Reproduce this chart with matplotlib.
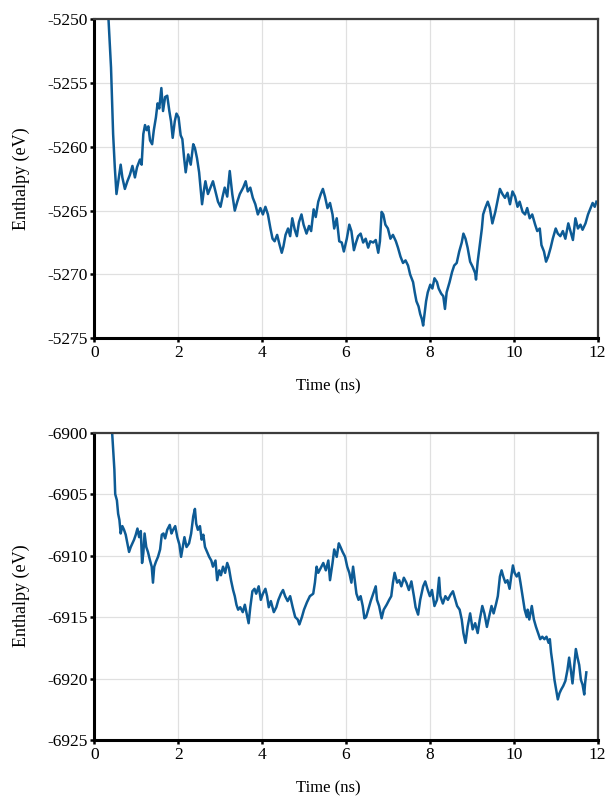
#!/usr/bin/env python3
# -*- coding: utf-8 -*-
import matplotlib

matplotlib.use("Agg")
import matplotlib.pyplot as plt
import numpy as np

plt.rcParams["font.family"] = ["Liberation Serif", "DejaVu Serif"]
plt.rcParams["axes.unicode_minus"] = False

LINE_CLR = "#0d5b95"

# enthalpy trace, first run
time_a = [
    0.30, 0.40, 0.45, 0.49, 0.53, 0.57, 0.63, 0.67, 0.73, 0.79, 0.85, 0.91,
    0.97, 1.02, 1.09, 1.13, 1.17, 1.21, 1.25, 1.29, 1.33, 1.38, 1.42, 1.47,
    1.51, 1.55, 1.60, 1.64, 1.69, 1.74, 1.79, 1.83, 1.87, 1.92, 1.96, 2.01,
    2.06, 2.10, 2.14, 2.18, 2.24, 2.30, 2.36, 2.40, 2.45, 2.50, 2.57, 2.61,
    2.65, 2.71, 2.77, 2.83, 2.89, 2.95, 3.01, 3.06, 3.11, 3.17, 3.23, 3.29,
    3.35, 3.41, 3.47, 3.55, 3.61, 3.66, 3.72, 3.78, 3.84, 3.90, 3.96, 4.02,
    4.08, 4.14, 4.20, 4.25, 4.30, 4.36, 4.42, 4.47, 4.51, 4.56, 4.62, 4.67,
    4.72, 4.78, 4.83, 4.88, 4.94, 4.99, 5.06, 5.12, 5.17, 5.23, 5.28, 5.34,
    5.40, 5.45, 5.50, 5.56, 5.62, 5.68, 5.72, 5.78, 5.84, 5.90, 5.95, 6.02,
    6.08, 6.13, 6.19, 6.24, 6.29, 6.35, 6.41, 6.47, 6.53, 6.58, 6.65, 6.71,
    6.77, 6.81, 6.85, 6.89, 6.94, 7.00, 7.06, 7.12, 7.19, 7.24, 7.30, 7.36,
    7.42, 7.48, 7.53, 7.60, 7.64, 7.68, 7.73, 7.77, 7.81, 7.84, 7.87, 7.91,
    7.95, 8.01, 8.06, 8.11, 8.17, 8.21, 8.27, 8.32, 8.36, 8.40, 8.47, 8.53,
    8.58, 8.64, 8.70, 8.76, 8.80, 8.85, 8.90, 8.96, 9.02, 9.08, 9.10, 9.14,
    9.19, 9.24, 9.27, 9.32, 9.38, 9.43, 9.49, 9.56, 9.61, 9.67, 9.73, 9.79,
    9.85, 9.91, 9.97, 10.03, 10.09, 10.14, 10.21, 10.27, 10.32, 10.38, 10.44,
    10.51, 10.56, 10.62, 10.66, 10.72, 10.77, 10.82, 10.88, 10.93, 11.00,
    11.05, 11.11, 11.17, 11.23, 11.30, 11.35, 11.41, 11.47, 11.53, 11.59,
    11.64, 11.71, 11.77, 11.83, 11.88, 11.93, 11.97,
]
enthalpy_a = [
    -5247.5, -5253.8, -5259.0, -5261.6, -5263.7, -5262.8, -5261.4, -5262.4,
    -5263.3, -5262.7, -5262.2, -5261.5, -5262.4, -5261.6, -5261.0, -5261.4,
    -5259.0, -5258.3, -5258.7, -5258.4, -5259.5, -5259.8, -5258.7, -5257.7,
    -5256.6, -5257.0, -5255.4, -5257.2, -5256.1, -5256.0, -5257.2, -5258.0,
    -5259.3, -5258.0, -5257.4, -5257.7, -5259.1, -5259.4, -5260.8, -5262.0,
    -5260.6, -5261.4, -5259.8, -5260.1, -5260.9, -5262.0, -5264.5, -5263.5,
    -5262.7, -5263.7, -5263.2, -5262.7, -5263.5, -5264.3, -5264.7, -5263.9,
    -5263.2, -5263.9, -5261.9, -5263.7, -5265.0, -5264.3, -5263.7, -5263.2,
    -5262.7, -5263.5, -5263.2, -5264.0, -5264.5, -5265.3, -5264.8, -5265.3,
    -5264.7, -5265.3, -5266.4, -5267.2, -5267.4, -5266.9, -5267.7, -5268.3,
    -5267.8, -5266.9, -5266.4, -5267.0, -5265.6, -5266.5, -5267.0, -5265.9,
    -5265.3, -5266.1, -5266.8, -5266.2, -5266.6, -5264.9, -5265.5, -5264.3,
    -5263.7, -5263.3, -5263.9, -5264.8, -5264.4, -5265.3, -5266.4, -5265.6,
    -5267.4, -5267.5, -5268.2, -5267.2, -5266.1, -5266.6, -5268.1, -5267.5,
    -5267.0, -5266.8, -5267.5, -5267.2, -5267.9, -5267.4, -5267.5, -5267.3,
    -5268.3, -5267.4, -5265.1, -5265.3, -5266.1, -5266.4, -5267.2, -5266.9,
    -5267.4, -5267.9, -5268.6, -5269.1, -5268.9, -5269.3, -5270.0, -5270.6,
    -5271.4, -5272.1, -5272.5, -5273.1, -5273.5, -5274.0, -5273.2, -5272.1,
    -5271.4, -5270.8, -5271.1, -5270.3, -5270.6, -5271.1, -5271.5, -5271.7,
    -5272.7, -5271.4, -5270.6, -5269.8, -5269.3, -5269.1, -5268.2, -5267.5,
    -5266.8, -5267.2, -5267.9, -5269.0, -5269.4, -5269.9, -5270.4, -5269.0,
    -5267.7, -5266.4, -5265.3, -5264.8, -5264.3, -5264.8, -5266.0, -5265.1,
    -5264.3, -5263.3, -5263.7, -5264.0, -5263.6, -5264.5, -5263.5, -5263.9,
    -5264.7, -5264.3, -5265.1, -5265.3, -5264.8, -5265.6, -5265.3, -5266.1,
    -5266.6, -5266.4, -5267.7, -5268.2, -5269.0, -5268.6, -5267.9, -5267.2,
    -5266.4, -5266.8, -5267.0, -5266.6, -5267.2, -5266.0, -5266.6, -5267.3,
    -5265.6, -5266.4, -5266.1, -5266.5, -5266.0, -5265.3, -5264.8, -5264.4,
    -5264.7, -5264.3,
]

# enthalpy trace, second run
time_b = [
    0.40, 0.48, 0.50, 0.54, 0.57, 0.60, 0.63, 0.67, 0.71, 0.75, 0.79, 0.83,
    0.87, 0.91, 0.95, 0.99, 1.03, 1.07, 1.11, 1.14, 1.17, 1.20, 1.24, 1.28,
    1.33, 1.37, 1.40, 1.43, 1.47, 1.52, 1.57, 1.61, 1.65, 1.69, 1.74, 1.80,
    1.84, 1.88, 1.93, 1.98, 2.03, 2.07, 2.11, 2.15, 2.20, 2.26, 2.31, 2.36,
    2.40, 2.43, 2.47, 2.52, 2.56, 2.60, 2.64, 2.69, 2.74, 2.79, 2.83, 2.89,
    2.93, 2.98, 3.02, 3.07, 3.12, 3.17, 3.21, 3.26, 3.31, 3.35, 3.39, 3.43,
    3.48, 3.54, 3.59, 3.68, 3.72, 3.77, 3.82, 3.86, 3.92, 3.97, 4.02, 4.08,
    4.12, 4.16, 4.21, 4.28, 4.34, 4.39, 4.45, 4.50, 4.55, 4.61, 4.67, 4.73,
    4.79, 4.85, 4.89, 4.95, 5.00, 5.07, 5.14, 5.22, 5.26, 5.30, 5.34, 5.40,
    5.46, 5.52, 5.58, 5.62, 5.68, 5.72, 5.78, 5.83, 5.87, 5.92, 5.98, 6.03,
    6.08, 6.13, 6.17, 6.21, 6.25, 6.30, 6.35, 6.40, 6.44, 6.48, 6.53, 6.59,
    6.65, 6.71, 6.74, 6.79, 6.85, 6.90, 6.97, 7.03, 7.08, 7.12, 7.16, 7.22,
    7.27, 7.32, 7.38, 7.44, 7.50, 7.56, 7.62, 7.66, 7.72, 7.77, 7.84, 7.89,
    7.95, 8.00, 8.05, 8.11, 8.17, 8.22, 8.25, 8.31, 8.37, 8.43, 8.49, 8.55,
    8.60, 8.65, 8.71, 8.76, 8.80, 8.85, 8.90, 8.96, 9.02, 9.08, 9.14, 9.19,
    9.25, 9.30, 9.36, 9.41, 9.47, 9.52, 9.58, 9.62, 9.67, 9.71, 9.75, 9.80,
    9.85, 9.90, 9.94, 9.98, 10.02, 10.07, 10.12, 10.16, 10.21, 10.26, 10.31,
    10.33, 10.37, 10.43, 10.48, 10.53, 10.58, 10.63, 10.68, 10.73, 10.78,
    10.83, 10.86, 10.89, 10.93, 10.97, 11.01, 11.05, 11.09, 11.13, 11.18,
    11.23, 11.28, 11.32, 11.36, 11.40, 11.44, 11.48, 11.52, 11.56, 11.60,
    11.64, 11.68, 11.70, 11.73,
]
enthalpy_b = [
    -6898.5, -6903.0, -6905.0, -6905.5, -6906.6, -6907.1, -6908.2, -6907.6,
    -6907.9, -6908.3, -6909.0, -6909.7, -6909.3, -6909.0, -6908.7, -6908.3,
    -6907.8, -6908.5, -6908.0, -6910.6, -6909.8, -6908.2, -6909.3, -6909.7,
    -6910.4, -6910.9, -6912.2, -6910.9, -6910.5, -6910.1, -6909.5, -6908.3,
    -6908.2, -6908.6, -6907.9, -6907.5, -6908.2, -6907.9, -6907.6, -6908.5,
    -6909.1, -6910.1, -6909.3, -6908.5, -6909.3, -6909.0, -6908.2, -6906.8,
    -6906.2, -6907.4, -6907.9, -6907.6, -6908.7, -6908.3, -6909.3, -6909.7,
    -6910.1, -6910.4, -6910.9, -6910.4, -6912.0, -6911.2, -6911.6, -6910.9,
    -6911.4, -6910.6, -6911.0, -6912.0, -6912.8, -6913.3, -6914.0, -6914.4,
    -6914.2, -6914.6, -6914.0, -6915.5, -6914.2, -6912.9, -6912.7, -6913.1,
    -6912.5, -6913.6, -6913.1, -6912.7, -6913.3, -6914.2, -6913.7, -6914.6,
    -6914.2, -6913.6, -6913.1, -6912.8, -6913.3, -6913.7, -6913.3, -6914.2,
    -6915.0, -6915.2, -6915.6, -6915.0, -6914.4, -6913.8, -6913.3, -6913.1,
    -6912.2, -6910.9, -6911.4, -6911.0, -6910.6, -6911.2, -6910.4, -6912.0,
    -6910.6, -6909.5, -6910.1, -6909.0, -6909.3, -6909.7, -6910.1, -6910.9,
    -6911.4, -6912.2, -6910.9, -6912.0, -6913.1, -6913.6, -6913.3, -6914.1,
    -6915.1, -6915.0, -6914.4, -6913.7, -6913.1, -6912.5, -6913.6, -6914.1,
    -6915.1, -6914.4, -6914.0, -6913.6, -6913.3, -6912.2, -6911.4, -6912.2,
    -6912.0, -6912.5, -6911.8, -6912.2, -6912.8, -6912.1, -6913.3, -6914.2,
    -6914.8, -6913.6, -6912.5, -6912.1, -6912.8, -6913.3, -6912.8, -6914.1,
    -6913.6, -6911.8, -6913.3, -6913.9, -6913.3, -6913.6, -6913.2, -6912.9,
    -6913.5, -6914.1, -6914.4, -6915.2, -6916.3, -6917.1, -6915.8, -6914.7,
    -6916.0, -6915.5, -6916.3, -6915.2, -6914.1, -6914.7, -6915.8, -6915.0,
    -6914.1, -6914.7, -6913.9, -6913.3, -6911.7, -6911.2, -6911.7, -6912.2,
    -6912.0, -6912.7, -6911.7, -6910.8, -6911.4, -6911.7, -6911.4, -6912.2,
    -6913.3, -6914.4, -6915.0, -6914.4, -6915.2, -6914.1, -6915.2, -6915.8,
    -6916.3, -6916.8, -6916.6, -6916.8, -6916.6, -6917.1, -6916.8, -6917.9,
    -6918.9, -6920.1, -6920.9, -6921.7, -6921.2, -6920.9, -6920.6, -6920.2,
    -6919.3, -6918.3, -6919.3, -6920.4, -6919.0, -6917.6, -6918.3, -6918.9,
    -6920.1, -6920.5, -6921.3, -6920.4, -6919.5,
]

x_ticks = [0, 2, 4, 6, 8, 10, 12]
y_ticks_a = [-5275, -5270, -5265, -5260, -5255, -5250]
y_ticks_b = [-6925, -6920, -6915, -6910, -6905, -6900]


def style_axes(ax, yticks):
    ax.set_xlim(0, 12)
    ax.set_ylim(yticks[0], yticks[-1])
    ax.set_xticks(x_ticks)
    ax.set_yticks(yticks)
    ax.grid(True, color="#e0e0e0", linewidth=0.9)
    ax.set_axisbelow(True)
    for side in ("left", "bottom"):
        ax.spines[side].set_color("black")
        ax.spines[side].set_linewidth(2.2)
    for side in ("top", "right"):
        ax.spines[side].set_color("#3c3c3c")
        ax.spines[side].set_linewidth(1.6)
    ax.tick_params(direction="out", length=3, width=1.8, labelsize=12.5,
                   pad=2, colors="black")
    ax.set_xlabel("Time (ns)", fontsize=12)
    ax.set_ylabel("Enthalpy (eV)", fontsize=13)


fig = plt.figure(figsize=(6.08, 7.96), dpi=100)
ax_a = fig.add_axes([0.155, 0.575, 0.828, 0.401])
ax_b = fig.add_axes([0.155, 0.0704, 0.828, 0.386])

ax_a.plot(time_a, enthalpy_a, color=LINE_CLR, linewidth=1.8)
ax_b.plot(time_b, enthalpy_b, color=LINE_CLR, linewidth=1.8)

style_axes(ax_a, y_ticks_a)
style_axes(ax_b, y_ticks_b)

ax_a.xaxis.set_label_coords(0.464, -0.127)
ax_a.yaxis.set_label_coords(-0.128, 0.5)
ax_b.xaxis.set_label_coords(0.464, -0.132)
ax_b.yaxis.set_label_coords(-0.128, 0.47)

fig.savefig("out.png", dpi=100)
